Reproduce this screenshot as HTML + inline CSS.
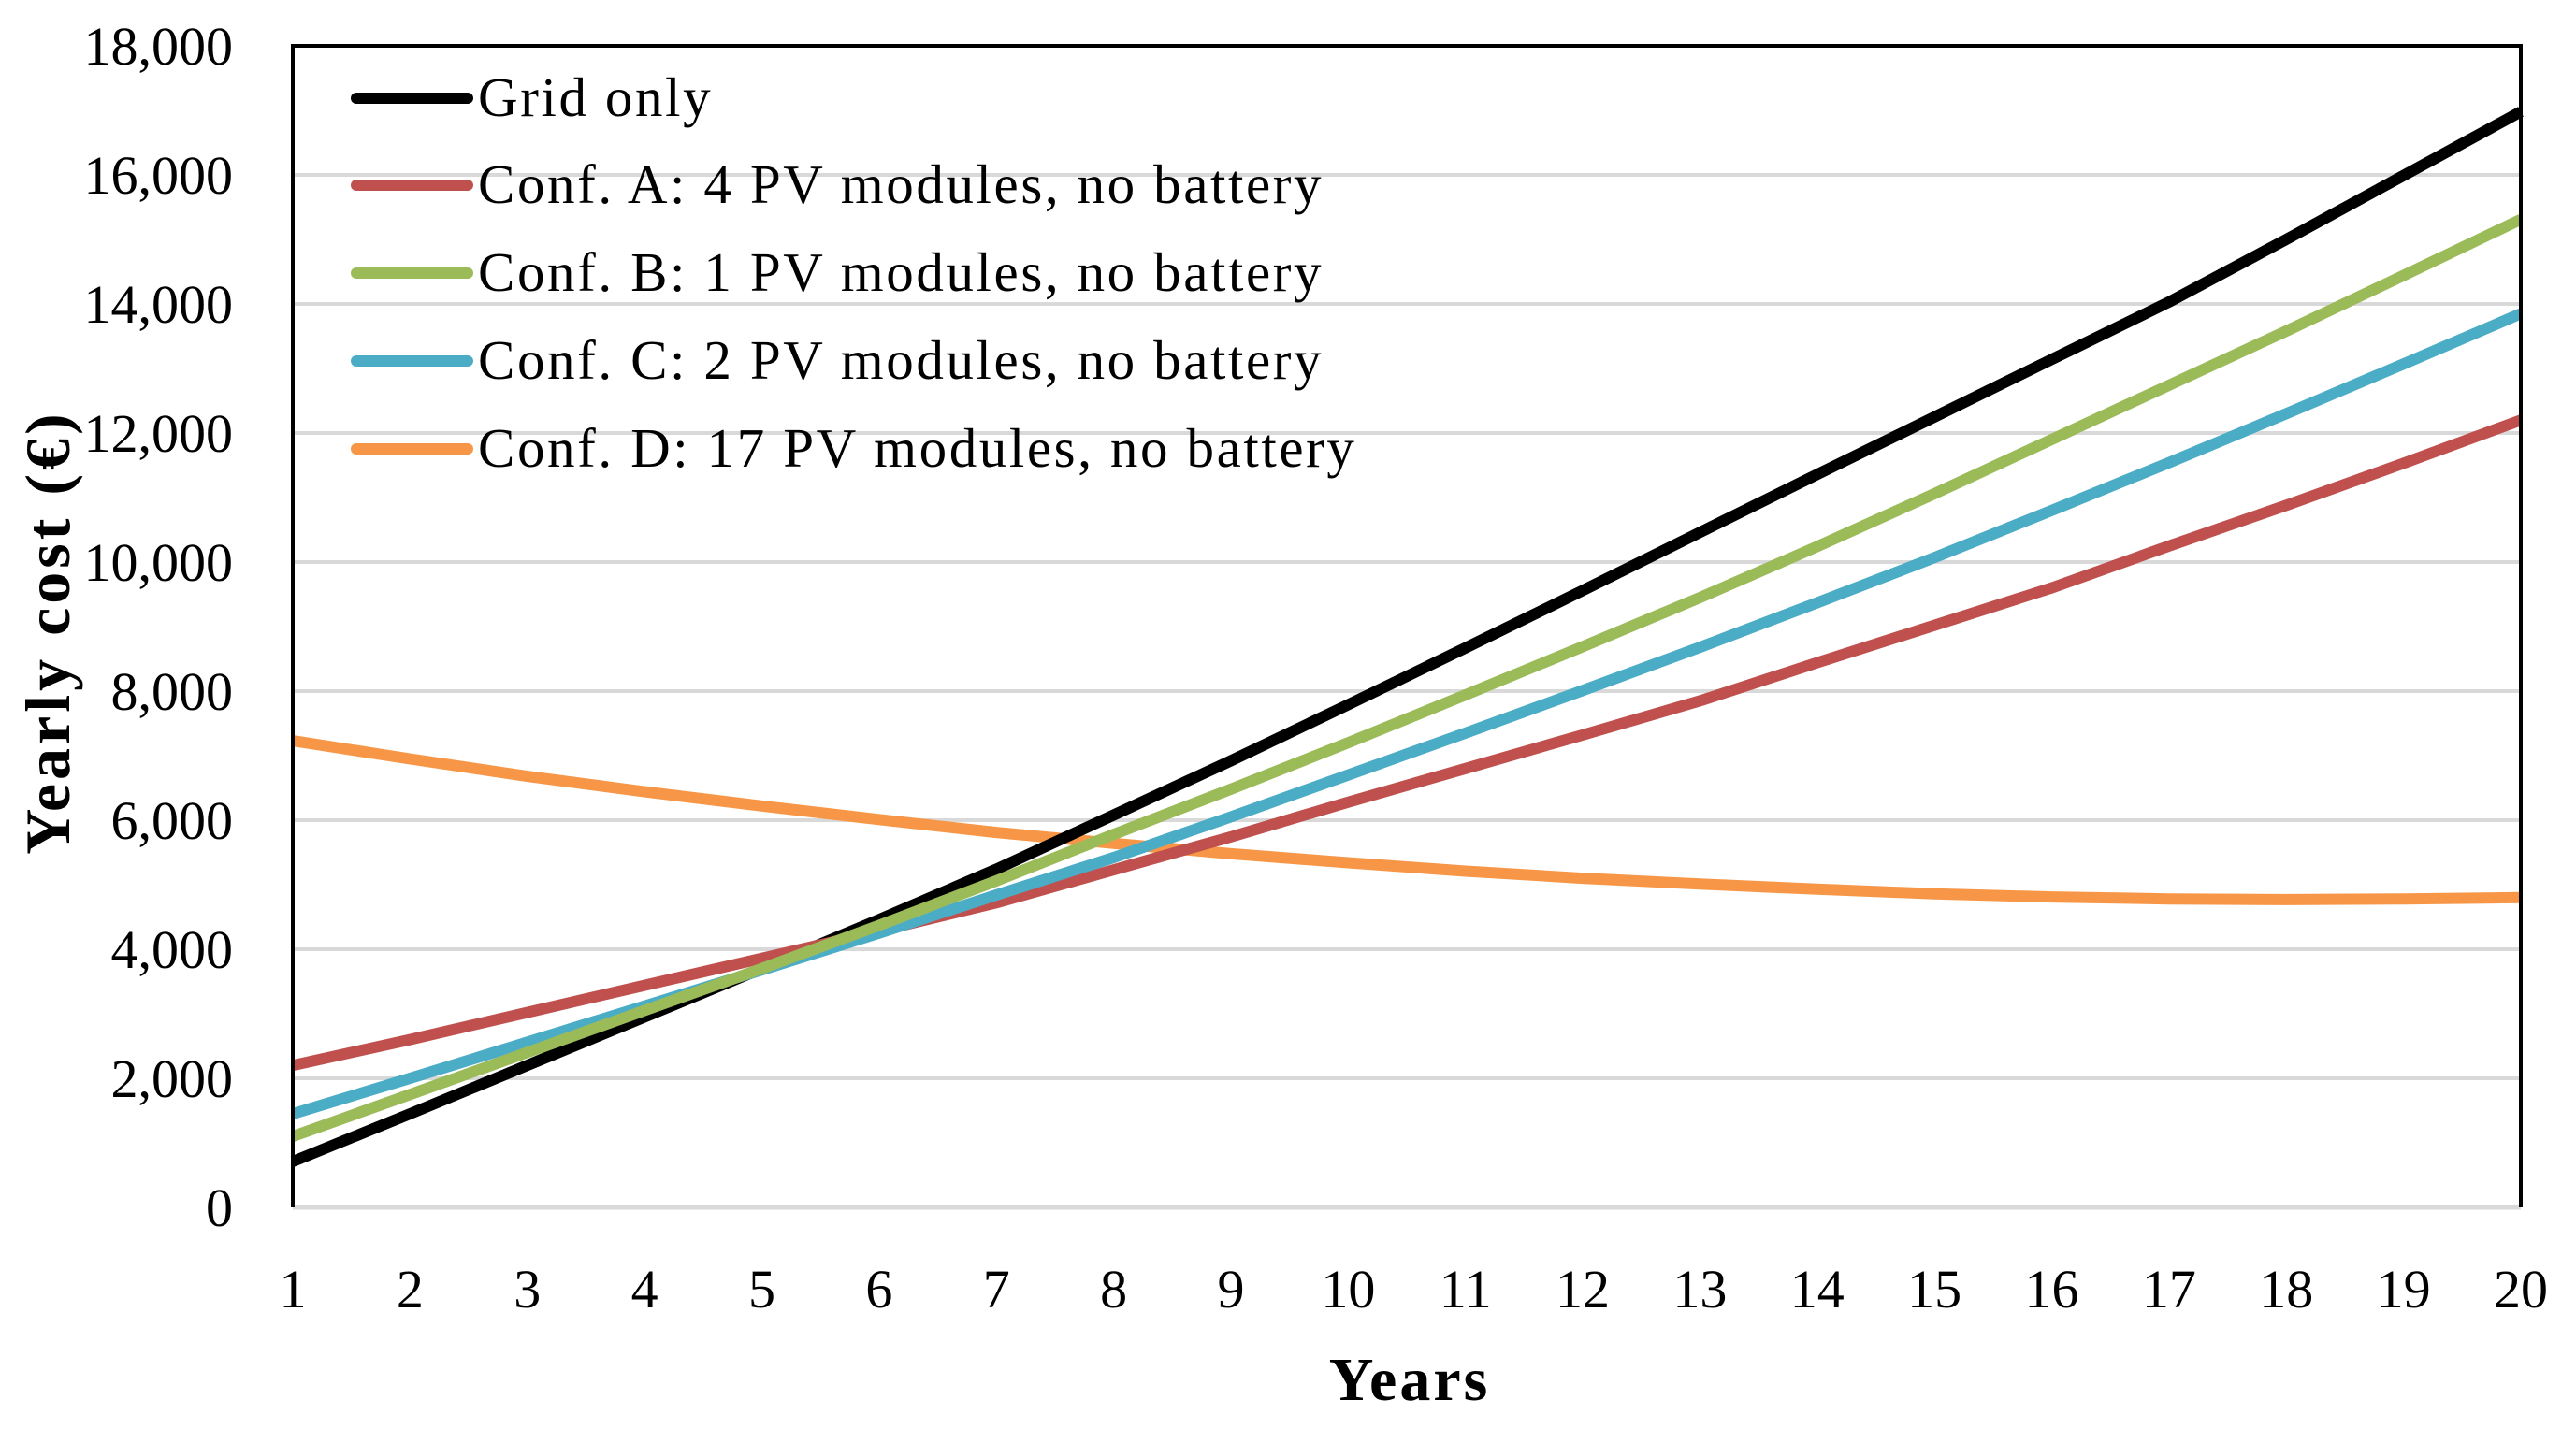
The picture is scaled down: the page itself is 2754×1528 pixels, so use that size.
<!DOCTYPE html>
<html><head><meta charset="utf-8"><style>
html,body{margin:0;padding:0;background:#fff;}
svg{display:block;font-family:"Liberation Serif",serif;}
</style></head><body>
<svg id="chart" width="2754" height="1528" viewBox="0 0 2754 1528" xmlns="http://www.w3.org/2000/svg">
<g id="grid"></g><g id="series"></g><g id="axes"></g><g id="legend"></g>
<text x="1507" y="1497" font-size="66" font-weight="bold" letter-spacing="3" text-anchor="middle">Years</text>
<text transform="translate(74,676) rotate(-90)" font-size="68" font-weight="bold" letter-spacing="4" text-anchor="middle">Yearly cost (€)</text>
</svg>
<script>
const years = [1,2,3,4,5,6,7,8,9,10,11,12,13,14,15,16,17,18,19,20];
const yTicks = [0,2000,4000,6000,8000,10000,12000,14000,16000,18000];
const seriesNames = ["Grid only","Conf. A: 4 PV modules, no battery","Conf. B: 1 PV modules, no battery","Conf. C: 2 PV modules, no battery","Conf. D: 17 PV modules, no battery"];
const gridOnly = [710,1450,2200,2950,3700,4460,5240,6080,6920,7790,8670,9560,10460,11360,12250,13140,14030,15000,15990,16980];
const confA = [2200,2600,3020,3440,3860,4280,4720,5230,5740,6280,6800,7320,7850,8440,9020,9600,10250,10880,11530,12200];
const confB = [1100,1750,2400,3050,3700,4370,5060,5780,6480,7200,7940,8690,9450,10240,11060,11900,12740,13580,14440,15310];
const confC = [1450,2000,2560,3120,3680,4250,4840,5420,6050,6700,7350,8010,8680,9370,10070,10800,11540,12300,13070,13850];
const confD = [7230,6950,6680,6440,6220,6010,5810,5640,5480,5340,5210,5100,5010,4930,4860,4810,4780,4770,4780,4800];

const NS="http://www.w3.org/2000/svg";
const X0=313,X1=2695,Y0=1291,Y1=49;
const xs=v=>X0+(v-1)*(X1-X0)/19;
const ys=v=>Y0-v*(Y0-Y1)/18000;
function mk(tag,attrs,parent,txt){const e=document.createElementNS(NS,tag);for(const k in attrs)e.setAttribute(k,attrs[k]);if(txt!==undefined)e.textContent=txt;parent.appendChild(e);return e;}
const grid=document.getElementById('grid'),axes=document.getElementById('axes'),ser=document.getElementById('series'),leg=document.getElementById('legend');
yTicks.forEach(t=>{
  if(t>0&&t<18000){const l=mk('line',{x1:X0,x2:X1,y1:ys(t),y2:ys(t),stroke:'#d9d9d9','stroke-width':4},grid);
  
  }
  const tx=mk('text',{x:249,y:ys(t)+20,'font-size':58,'text-anchor':'end'},axes,t.toLocaleString('en-US'));
  
  
});
const base=mk('line',{x1:X0,x2:X1,y1:Y0,y2:Y0,stroke:'#d9d9d9','stroke-width':5},grid);


const frame=mk('path',{d:`M${X0},${Y0}V${Y1}H${X1}V${Y0}`,fill:'none',stroke:'#000','stroke-width':4},axes);


years.forEach(y=>{
  const tx=mk('text',{x:xs(y),y:1398,'font-size':58,'text-anchor':'middle'},axes,String(y));
  
  
});
const allSeries=[gridOnly,confA,confB,confC,confD];
const colors=['#000000','#c0504d','#9bbb59','#4bacc6','#f79646'];
const keys=['grid-only','conf-a','conf-b','conf-c','conf-d'];
[4,0,1,3,2].forEach(i=>{
  const d=allSeries[i].map((v,j)=>(j?'L':'M')+xs(years[j]).toFixed(1)+','+ys(v).toFixed(1)).join('');
  const p=mk('path',{d:d,fill:'none',stroke:colors[i],'stroke-width':12,'stroke-linejoin':'round'},ser);
  
  
});
const rowsY=[105,198,292,386,480];
seriesNames.forEach((n,i)=>{
  const g=mk('g',{},leg);
  
  
  mk('line',{x1:381,x2:500,y1:rowsY[i],y2:rowsY[i],stroke:colors[i],'stroke-width':12,'stroke-linecap':'round'},g);
  mk('text',{x:511,y:rowsY[i]+19,'font-size':59,'letter-spacing':2.6},g,n);
});
</script>
</body></html>
